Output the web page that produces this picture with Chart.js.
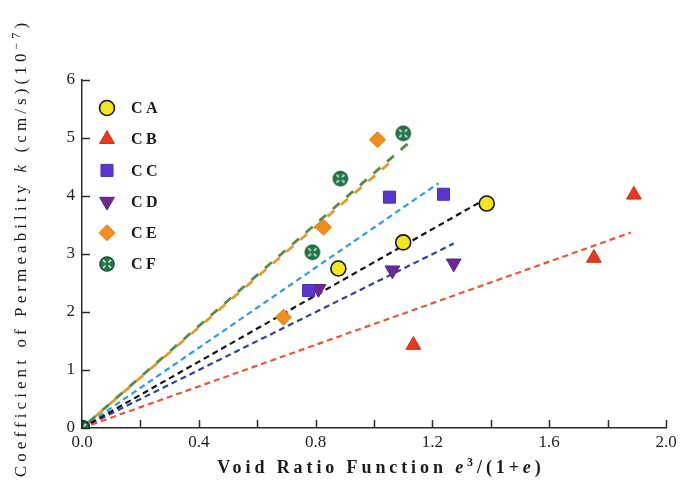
<!DOCTYPE html>
<html>
<head>
<meta charset="utf-8">
<script src="https://cdn.jsdelivr.net/npm/chart.js@4.4.1/dist/chart.umd.min.js"></script>
<style>
  html, body { margin: 0; padding: 0; background: #ffffff; }
  #wrap { width: 682px; height: 496px; }
</style>
</head>
<body>
<div id="wrap"><canvas id="c" width="682" height="496"></canvas></div>
<script>
// Measured permeability k (10^-7 cm/s) against void ratio function e^3/(1+e)
const seriesNames = ['CA', 'CB', 'CC', 'CD', 'CE', 'CF'];
const xCA = [0, 0.878, 1.100, 1.386];
const yCA = [0, 2.75, 3.20, 3.87];
const xCB = [0, 1.135, 1.753, 1.890];
const yCB = [0, 1.43, 2.93, 4.02];
const xCC = [0, 0.776, 1.053, 1.238];
const yCC = [0, 2.37, 3.98, 4.03];
const xCD = [0, 0.810, 1.063, 1.273];
const yCD = [0, 2.40, 2.72, 2.84];
const xCE = [0, 0.690, 0.827, 1.012];
const yCE = [0, 1.91, 3.46, 4.97];
const xCF = [0, 0.789, 0.885, 1.100];
const yCF = [0, 3.03, 4.30, 5.08];

// Linear fits through the origin: end point of each fitted line
const fitEndX = [1.372, 1.880, 1.221, 1.273, 1.060, 1.115];
const fitEndY = [3.92, 3.37, 4.22, 3.18, 4.60, 4.90];

// Axis ticks
const xTickValues = [0.0, 0.4, 0.8, 1.2, 1.6, 2.0];
const yTickValues = [0, 1, 2, 3, 4, 5, 6];

const xs = [xCA, xCB, xCC, xCD, xCE, xCF];
const ys = [yCA, yCB, yCC, yCD, yCE, yCF];

const SERIF = "'Liberation Serif', 'Times New Roman', serif";

// Green marker with white cross pattern for CF
function makeCFMarker() {
  const s = 18, cv = document.createElement('canvas');
  cv.width = s; cv.height = s;
  const g = cv.getContext('2d');
  const c = s / 2, r = 7.2;
  g.beginPath(); g.arc(c, c, r, 0, Math.PI * 2);
  g.fillStyle = '#22784a'; g.fill();
  g.lineWidth = 1.2; g.strokeStyle = '#0f4a2c'; g.stroke();
  g.strokeStyle = '#e9f5ec'; g.lineWidth = 1.6;
  g.beginPath();
  g.moveTo(c - 4, c - 4); g.lineTo(c + 4, c + 4);
  g.moveTo(c + 4, c - 4); g.lineTo(c - 4, c + 4);
  g.stroke();
  g.beginPath(); g.arc(c, c, 2.2, 0, Math.PI * 2);
  g.fillStyle = '#22784a'; g.fill();
  return cv;
}
const cfMarker = makeCFMarker();

const markerStyle = [
  { pointStyle: 'circle',   rotation: 0,   radius: 7.5, bg: '#f4e421', border: '#141414', bw: 1.6 },
  { pointStyle: 'triangle', rotation: 0,   radius: 8.5, bg: '#e53a1f', border: '#d22a14', bw: 1 },
  { pointStyle: 'rect',     rotation: 0,   radius: 8.5, bg: '#5a37cf', border: '#4a2bbd', bw: 1 },
  { pointStyle: 'triangle', rotation: 180, radius: 8.5, bg: '#6c2a92', border: '#5a1f80', bw: 1 },
  { pointStyle: 'rectRot',  rotation: 0,   radius: 8,   bg: '#f28d1e', border: '#e57f12', bw: 1 },
  { pointStyle: cfMarker,   rotation: 0,   radius: 8,   bg: '#22784a', border: '#0f4a2c', bw: 1 }
];
const lineStyle = [
  { color: '#151515', dash: [6, 4], width: 2.2 },
  { color: '#e8553c', dash: [6, 4], width: 2.2 },
  { color: '#2b9ee2', dash: [6, 4], width: 2.2 },
  { color: '#33409a', dash: [6, 4], width: 2.2 },
  { color: '#e39a2c', dash: [9, 9], width: 2.8 },
  { color: '#5a8a44', dash: [9, 9], width: 2.8 }
];

const datasets = [];
seriesNames.forEach((name, i) => {
  const m = markerStyle[i];
  datasets.push({
    type: 'scatter',
    label: name,
    data: xs[i].map((x, j) => ({ x: x, y: ys[i][j] })),
    pointStyle: m.pointStyle,
    rotation: m.rotation,
    pointRadius: m.radius,
    pointHoverRadius: m.radius,
    backgroundColor: m.bg,
    borderColor: m.border,
    borderWidth: m.bw,
    order: name === 'CF' ? 0 : 1
  });
});
seriesNames.forEach((name, i) => {
  const l = lineStyle[i];
  datasets.push({
    type: 'line',
    label: name + ' fit',
    data: [{ x: 0, y: 0 }, { x: fitEndX[i], y: fitEndY[i] }],
    borderColor: l.color,
    borderDash: l.dash,
    borderDashOffset: name === 'CF' ? 9 : 0,
    borderWidth: l.width,
    pointRadius: 0,
    fill: false,
    order: 10
  });
});

// Inward tick marks on both axes
const inwardTicks = {
  id: 'inwardTicks',
  afterDatasetsDraw(chart) {
    const ctx = chart.ctx, xs_ = chart.scales.x, ys_ = chart.scales.y;
    ctx.save();
    ctx.strokeStyle = '#2a2a2a';
    ctx.lineWidth = 1.5;
    xs_.ticks.forEach(t => {
      const px = Math.round(xs_.getPixelForValue(t.value)) + 0.5;
      ctx.beginPath(); ctx.moveTo(px, xs_.top); ctx.lineTo(px, xs_.top - 8); ctx.stroke();
    });
    ys_.ticks.forEach(t => {
      const py = Math.round(ys_.getPixelForValue(t.value)) + 0.5;
      ctx.beginPath(); ctx.moveTo(ys_.right, py); ctx.lineTo(ys_.right + 8, py); ctx.stroke();
    });
    ctx.restore();
  }
};

// Draws a run of styled text segments starting at x (baseline middle)
function drawRuns(ctx, runs, x, y, spacing) {
  ctx.letterSpacing = spacing + 'px';
  let cx = x;
  runs.forEach(r => {
    ctx.font = r.font;
    const dy = r.sup ? -5 : 0;
    ctx.fillText(r.t, cx, y + dy);
    cx += ctx.measureText(r.t).width;
  });
}
function runsWidth(ctx, runs, spacing) {
  ctx.letterSpacing = spacing + 'px';
  let w = 0;
  runs.forEach(r => { ctx.font = r.font; w += ctx.measureText(r.t).width; });
  return w;
}

const xTitleRuns = [
  { t: 'Void Ratio Function ', font: 'bold 18px ' + SERIF },
  { t: 'e', font: 'italic bold 18px ' + SERIF },
  { t: '3', font: 'bold 12px ' + SERIF, sup: true },
  { t: '/(1+', font: 'bold 18px ' + SERIF },
  { t: 'e', font: 'italic bold 18px ' + SERIF },
  { t: ')', font: 'bold 18px ' + SERIF }
];
const yTitleRuns = [
  { t: 'Coefficient of Permeability ', font: '17px ' + SERIF },
  { t: 'k', font: 'italic 17px ' + SERIF },
  { t: ' (cm/s)(10', font: '17px ' + SERIF },
  { t: '−7', font: '12px ' + SERIF, sup: true },
  { t: ')', font: '17px ' + SERIF }
];

const axisTitles = {
  id: 'axisTitles',
  afterDraw(chart) {
    const ctx = chart.ctx, ca = chart.chartArea;
    ctx.save();
    ctx.fillStyle = '#1c1c1c';
    ctx.textBaseline = 'middle';
    ctx.textAlign = 'left';
    // x title
    const sx = 3.9;
    const wx = runsWidth(ctx, xTitleRuns, sx);
    drawRuns(ctx, xTitleRuns, 381 - wx / 2, 468, sx);
    // y title
    const sy = 4.1;
    const wy = runsWidth(ctx, yTitleRuns, sy);
    ctx.translate(22, 248);
    ctx.rotate(-Math.PI / 2);
    drawRuns(ctx, yTitleRuns, -wy / 2, 0, sy);
    ctx.restore();
  }
};

// Legend inside the plot, top-left
function drawMarker(ctx, i, x, y) {
  const m = markerStyle[i];
  if (typeof m.pointStyle === 'object') {
    ctx.drawImage(m.pointStyle, x - m.pointStyle.width / 2, y - m.pointStyle.height / 2);
    return;
  }
  ctx.save();
  ctx.fillStyle = m.bg; ctx.strokeStyle = m.border; ctx.lineWidth = m.bw;
  ctx.beginPath();
  const r = m.radius;
  if (m.pointStyle === 'circle') {
    ctx.arc(x, y, r, 0, Math.PI * 2);
  } else if (m.pointStyle === 'triangle') {
    const dir = m.rotation === 180 ? -1 : 1;
    const hw = r * Math.sqrt(3) / 2;
    ctx.moveTo(x, y - dir * r);
    ctx.lineTo(x + hw, y + dir * r / 2);
    ctx.lineTo(x - hw, y + dir * r / 2);
    ctx.closePath();
  } else if (m.pointStyle === 'rect') {
    const s = r * Math.SQRT1_2;
    ctx.rect(x - s, y - s, 2 * s, 2 * s);
  } else if (m.pointStyle === 'rectRot') {
    ctx.moveTo(x, y - r); ctx.lineTo(x + r, y); ctx.lineTo(x, y + r); ctx.lineTo(x - r, y);
    ctx.closePath();
  }
  ctx.fill(); ctx.stroke();
  ctx.restore();
}
const insideLegend = {
  id: 'insideLegend',
  afterDraw(chart) {
    const ctx = chart.ctx;
    ctx.save();
    ctx.textBaseline = 'middle';
    ctx.textAlign = 'left';
    ctx.fillStyle = '#1a1a1a';
    ctx.font = 'bold 16px ' + SERIF;
    ctx.letterSpacing = '3.5px';
    seriesNames.forEach((name, i) => {
      const y = 108 + i * 31.2;
      drawMarker(ctx, i, 107, y);
      ctx.fillText(name, 131, y + 1);
    });
    ctx.restore();
  }
};

new Chart(document.getElementById('c'), {
  data: { datasets },
  options: {
    responsive: false,
    devicePixelRatio: 1,
    animation: false,
    layout: { padding: { top: 80, right: 16, left: 0, bottom: 0 } },
    plugins: { legend: { display: false }, tooltip: { enabled: false } },
    scales: {
      x: {
        type: 'linear',
        min: 0, max: 2.0,
        afterFit(s) { s.height = 68; },
        afterBuildTicks(s) {
          s.ticks = [];
          for (let k = 0; k <= 10; k++) s.ticks.push({ value: k * 0.2 });
        },
        ticks: {
          autoSkip: false, maxRotation: 0, padding: 4,
          color: '#1e1e1e',
          font: { family: SERIF, size: 17 },
          callback(v) {
            const hit = xTickValues.find(t => Math.abs(t - v) < 1e-6);
            return hit === undefined ? '' : hit.toFixed(1);
          }
        },
        grid: { display: true, drawOnChartArea: false, drawTicks: false },
        border: { display: true, color: '#2a2a2a', width: 1.5 }
      },
      y: {
        type: 'linear',
        min: 0, max: 6,
        afterFit(s) { s.width = 82; },
        afterBuildTicks(s) { s.ticks = yTickValues.map(v => ({ value: v })); },
        ticks: {
          padding: 7,
          color: '#1e1e1e',
          font: { family: SERIF, size: 17 },
          callback(v) { return String(v); }
        },
        grid: { display: true, drawOnChartArea: false, drawTicks: false },
        border: { display: true, color: '#2a2a2a', width: 1.5 }
      }
    }
  },
  plugins: [inwardTicks, axisTitles, insideLegend]
});
</script>
</body>
</html>
